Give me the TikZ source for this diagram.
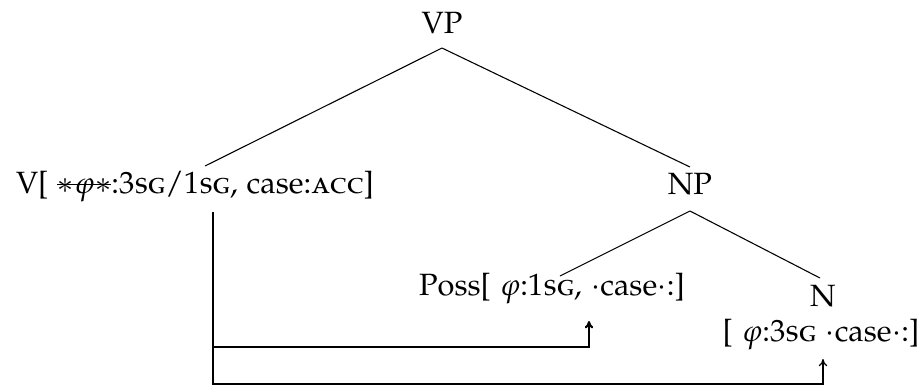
\documentclass[tikz,border=0pt]{standalone}
\usepackage[T1]{fontenc}
\usepackage[sc]{mathpazo}
\usetikzlibrary{calc,arrows.meta}
% struck-out feature: the text with a rule through it
\newsavebox\strkbox
\newcommand\strk[1]{\sbox\strkbox{#1}\rlap{\rule[0.55ex]{\wd\strkbox}{0.45pt}}\usebox\strkbox}
\begin{document}
\begin{tikzpicture}[x=0.325pt,y=-0.325pt,
  lbl/.style={anchor=base,inner sep=0pt},
  branch/.style={line width=0.35pt},
  agree/.style={-{To[length=2.4pt,width=2.8pt]},line width=0.7pt},
  agreethin/.style={-{To[length=2.4pt,width=2.8pt]},line width=0.4pt}]
\useasboundingbox (0,0) rectangle (922,385);

% tree labels
\node[lbl] (vp) at (442,33) {VP};
\node[lbl] (v) at (195,193) {V[ \strk{$*\varphi*$}:3\textsc{sg}/1\textsc{sg}, case:\textsc{acc}]};
\node[lbl] (np) at (690,194) {NP};
\node[lbl] (poss) at (552,295) {Poss[ $\varphi$:1\textsc{sg}, $\cdot$case$\cdot$:]};
\node[lbl] (n) at (823,306) {N};
\node[lbl] (nfeat) at (821,341) {[ $\varphi$:3\textsc{sg} $\cdot$case$\cdot$:]};

% branches
\coordinate (vp-foot) at ($(vp.base)+(0,15)$);
\coordinate (np-foot) at ($(np.base)+(0,17)$);
\draw[branch] (vp-foot) -- ($(v.base)+(10,-27)$);
\draw[branch] (vp-foot) -- ($(np.base)+(0,-27)$);
\draw[branch] (np-foot) -- ($(poss.base)+(8,-19)$);
\draw[branch] (np-foot) -- ($(n.base)+(-3,-28)$);

% agreement arrows from V
\coordinate (src) at ($(v.base)+(18,19)$);
\coordinate (tgt1) at ($(poss.base)+(37,26)$);
\coordinate (tgt2) at ($(nfeat.base)+(2,18)$);
\draw[agree] (src) -- ++(0,135) coordinate (bend) -| (tgt1);
\draw[agreethin] (bend) -- ++(0,37) -| (tgt2);
\end{tikzpicture}
\end{document}
